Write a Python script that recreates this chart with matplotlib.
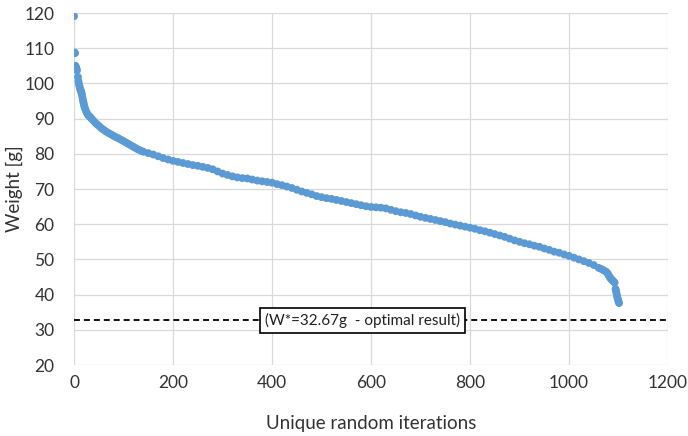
import matplotlib.pyplot as plt

plt.rcParams['font.family'] = ['Lato', 'DejaVu Sans']

# unique random iterations, sorted by resulting weight
iterations = [
    0, 1, 2, 3, 4, 5, 6, 8, 9, 10, 11, 12, 13, 14, 15, 16, 17, 18, 19, 20,
    21, 22, 24, 26, 28, 30, 33, 36, 40, 44, 48, 52, 56, 60, 65, 70, 75, 80,
    85, 90, 95, 100, 105, 110, 115, 120, 125, 130, 135, 140, 150, 160, 170,
    180, 190, 200, 210, 220, 230, 240, 250, 260, 270, 280, 290, 300, 310,
    320, 330, 340, 350, 360, 370, 380, 390, 400, 410, 420, 430, 440, 450,
    460, 470, 480, 490, 500, 510, 520, 530, 540, 550, 560, 570, 580, 590,
    600, 610, 620, 630, 640, 650, 660, 670, 680, 690, 700, 710, 720, 730,
    740, 750, 760, 770, 780, 790, 800, 810, 820, 830, 840, 850, 860, 870,
    880, 890, 900, 910, 920, 930, 940, 950, 960, 970, 980, 990, 1000, 1010,
    1020, 1030, 1040, 1050, 1060, 1065, 1070, 1075, 1078, 1080, 1082, 1084,
    1086, 1088, 1090, 1092, 1094, 1095, 1096, 1097, 1098, 1099, 1100, 1101,
]
weights = [
    119.1, 108.8, 108.6, 105.0, 104.6, 104.2, 103.7, 101.8, 100.6, 99.8,
    99.2, 98.6, 98.2, 97.8, 97.3, 96.8, 96.0, 95.3, 94.6, 94.0, 93.4, 92.9,
    92.2, 91.6, 91.1, 90.8, 90.4, 89.9, 89.3, 88.7, 88.2, 87.7, 87.2, 86.8,
    86.3, 85.9, 85.5, 85.1, 84.7, 84.4, 84.0, 83.6, 83.2, 82.8, 82.4, 82.0,
    81.6, 81.2, 80.9, 80.6, 80.2, 79.8, 79.3, 78.8, 78.4, 78.0, 77.7, 77.4,
    77.1, 76.8, 76.6, 76.3, 76.0, 75.6, 75.0, 74.4, 74.0, 73.6, 73.3, 73.1,
    73.0, 72.7, 72.4, 72.2, 72.0, 71.8, 71.4, 71.1, 70.7, 70.3, 69.8, 69.3,
    68.9, 68.5, 68.0, 67.7, 67.4, 67.2, 66.9, 66.6, 66.3, 66.0, 65.7, 65.4,
    65.1, 64.9, 64.8, 64.7, 64.5, 64.1, 63.7, 63.4, 63.2, 62.9, 62.5, 62.1,
    61.8, 61.5, 61.2, 60.9, 60.6, 60.2, 59.9, 59.6, 59.3, 59.0, 58.7, 58.3,
    58.0, 57.6, 57.2, 56.8, 56.4, 55.9, 55.4, 55.0, 54.6, 54.3, 53.9, 53.6,
    53.1, 52.7, 52.2, 51.9, 51.4, 51.0, 50.5, 50.0, 49.5, 49.0, 48.4, 47.6,
    47.3, 46.9, 46.5, 46.0, 45.5, 45.0, 44.6, 44.3, 44.0, 43.7, 43.4, 41.6,
    41.0, 40.3, 39.6, 39.0, 38.5, 38.0, 37.6,
]

optimal_weight = 32.67
optimal_label = "(W*=32.67g  - optimal result)"

fig = plt.figure(figsize=(6.88, 4.36), dpi=100)
ax = fig.add_axes([0.1076, 0.1628, 0.8634, 0.8073])

ax.scatter(iterations, weights, s=32, color='#5B9BD5', edgecolors='none', zorder=3)

ax.axhline(optimal_weight, color='black', lw=1.3, ls=(0, (3.3, 2.2)), zorder=2)
ax.text(582, optimal_weight, optimal_label, ha='center', va='center', fontsize=11,
        color='#202020', zorder=4,
        bbox=dict(boxstyle='square,pad=0.33', fc='white', ec='black', lw=1.2))

ax.set_xlim(0, 1200)
ax.set_ylim(20, 120)
ax.set_xticks(range(0, 1201, 200))
ax.set_yticks(range(20, 121, 10))
ax.grid(True, color='#d9d9d9', lw=0.9, zorder=0)
ax.set_axisbelow(True)
for side in ax.spines.values():
    side.set_visible(False)
ax.tick_params(length=0, labelsize=12.5, colors='#333333', pad=7)
ax.tick_params(axis='y', pad=14)

ax.set_xlabel("Unique random iterations", fontsize=13.5, color='#333333', va='center')
ax.set_ylabel("Weight [g]", fontsize=13.5, color='#333333', va='center')
ax.xaxis.set_label_coords(0.5, -0.165)
ax.yaxis.set_label_coords(-0.101, 0.5)

fig.savefig('out.png', dpi=100)
